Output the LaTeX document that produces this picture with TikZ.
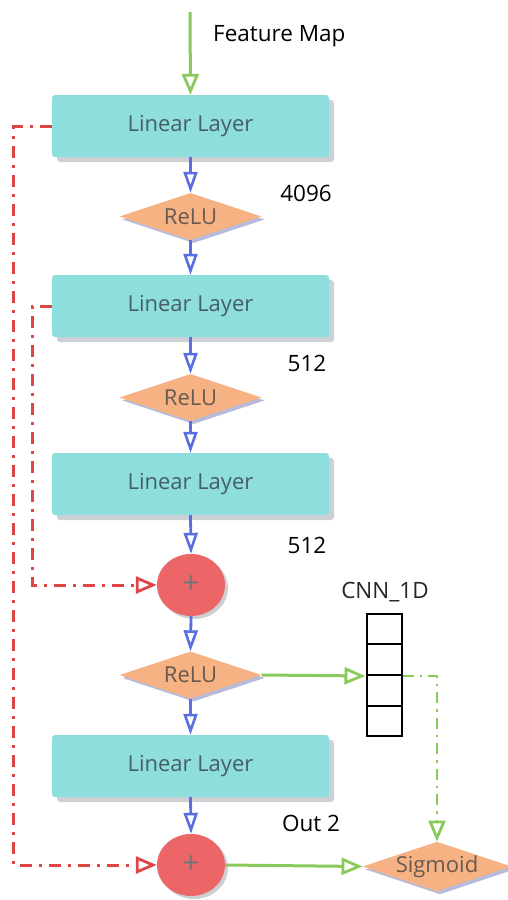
\documentclass[tikz,border=0pt]{standalone}
\usepackage{fontspec}
\setmainfont{Open Sans}
\usetikzlibrary{arrows.meta,shapes.geometric,shadows}
\definecolor{boxfill}{RGB}{142,222,221}
\definecolor{boxtext}{RGB}{70,95,100}
\definecolor{orfill}{RGB}{246,178,131}
\definecolor{ortext}{RGB}{105,90,80}
\definecolor{circfill}{RGB}{236,102,104}
\definecolor{barrowc}{RGB}{88,110,225}
\definecolor{garrowc}{RGB}{138,202,92}
\definecolor{rdashc}{RGB}{222,70,70}
\definecolor{shadowc}{RGB}{205,208,212}
\begin{document}
\begin{tikzpicture}[x=1pt,y=-1pt,
  layer/.style={rectangle, rounded corners=3pt, fill=boxfill, minimum width=277pt, minimum height=62pt,
    inner sep=0pt, text=boxtext, font=\fontsize{22}{26}\selectfont,
    drop shadow={shadow xshift=5pt, shadow yshift=-5pt, fill=shadowc, opacity=1}},
  relu/.style={diamond, fill=orfill, minimum width=142pt, minimum height=47pt, inner sep=0pt, aspect=3,
    text=ortext, font=\fontsize{22}{26}\selectfont,
    drop shadow={shadow xshift=3pt, shadow yshift=-3pt, fill=shadowc!90!blue, opacity=1}},
  plus/.style={ellipse, fill=circfill, minimum width=68pt, minimum height=62pt, inner sep=0pt,
    text=black!55, font=\fontsize{30}{30}\selectfont,
    drop shadow={shadow xshift=3pt, shadow yshift=-3pt, fill=shadowc, opacity=1}},
  cell/.style={rectangle, draw=black, line width=2pt, minimum width=35pt, minimum height=30.75pt, inner sep=0pt},
  lbl/.style={text=black, font=\fontsize{22.5}{26}\selectfont, inner sep=0pt},
  btip/.style={-{Triangle[open, length=21pt, width=14pt, line width=2.6pt]}},
  gtip/.style={-{Triangle[open, length=21pt, width=17pt, line width=2.8pt]}},
  barrow/.style={draw=barrowc, line width=2.8pt, btip},
  garrow/.style={draw=garrowc, line width=3pt, gtip},
  gdash/.style={draw=garrowc, line width=2.6pt, dash pattern=on 11pt off 6pt on 2.5pt off 6pt, gtip},
  rdash/.style={draw=rdashc, line width=3pt, dash pattern=on 12pt off 7pt on 3pt off 7pt, gtip}
]
\useasboundingbox (0,0) rectangle (507,900);
\fill[white] (0,0) rectangle (507,900);

\coordinate (fm) at (190,12);
\node[lbl, anchor=west] (fmt) at (213,36) {Feature Map};

\node[layer] (L1) at (190.5,126) {Linear Layer};
\node[relu] (R1) at (190.5,216.5) {ReLU};
\node[layer] (L2) at (190.5,306) {Linear Layer};
\node[relu] (R2) at (190.5,397.5) {ReLU};
\node[layer] (L3) at (190.5,484) {Linear Layer};
\node[plus] (P1) at (191,585) {+};
\node[relu] (R3) at (190.5,675) {ReLU};
\node[layer] (L4) at (190.5,766) {Linear Layer};
\node[plus] (P2) at (191,865) {+};
\node[relu, minimum width=140pt, minimum height=48pt] (S) at (437,866.5) {Sigmoid};

\node[cell] (c1) at (384,628.9) {};
\node[cell] (c2) at (384,659.6) {};
\node[cell] (c3) at (384,690.4) {};
\node[cell] (c4) at (384,721.1) {};

\node[lbl] (n1) at (306,193) {4096};
\node[lbl] (n2) at (307,363) {512};
\node[lbl] (n3) at (307,545) {512};
\node[lbl] (n4) at (311,823) {Out 2};
\node[lbl, text=black!85] (cnn) at (385,592) {CNN\_1D};

\draw[garrow] (fm) -- (L1.north);
\draw[barrow] (L1.south) -- (R1.north);
\draw[barrow] (R1.south) -- (L2.north);
\draw[barrow] (L2.south) -- (R2.north);
\draw[barrow] (R2.south) -- (L3.north);
\draw[barrow] (L3.south) -- (P1.north);
\draw[barrow] (P1.south) -- (R3.north);
\draw[barrow] (R3.south) -- (L4.north);
\draw[barrow] (L4.south) -- (P2.north);

\draw[garrow] (R3.east) -- (c2.south west);
\draw[garrow] (P2.east) -- (S.west);
\draw[gdash] (c2.south east) -- (c2.south east -| S.north) -- (S.north);

\draw[rdash] (L1.west) -- ++(-38,0) |- (P2.west);
\draw[rdash] (L2.west) -- ++(-19,0) |- (P1.west);
\end{tikzpicture}
\end{document}
